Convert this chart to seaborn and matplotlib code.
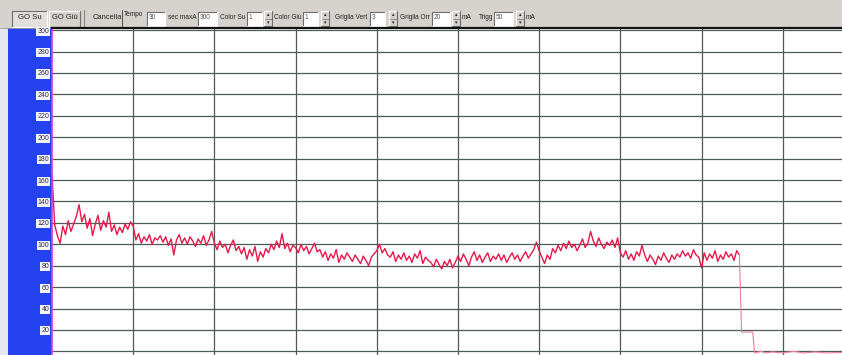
import numpy as np
import pandas as pd
import matplotlib
matplotlib.use("Agg")
import matplotlib.pyplot as plt
import seaborn as sns
from matplotlib.patches import Rectangle

sns.set_style("white")
plt.rcParams['font.family'] = ['Liberation Sans Narrow', 'Liberation Sans', 'DejaVu Sans']

# corrente letta ogni secondo (mA)
ma_main = [
    165, 118, 108, 101, 117, 109, 122, 112, 119, 126,
    137, 121, 128, 115, 124, 108, 119, 127, 113, 122,
    116, 130, 112, 118, 109, 116, 111, 119, 114, 121,
    117, 104, 110, 101, 107, 103, 109, 100, 106, 104,
    108, 102, 107, 99, 105, 90, 104, 109, 101, 106,
    100, 107, 103, 98, 105, 101, 108, 99, 104, 112,
    101, 95, 103, 97, 100, 92, 99, 104, 94, 98,
    91, 97, 86, 95, 89, 98, 84, 93, 88, 96,
    92, 100, 95, 103, 97, 110, 96, 101, 93, 99,
    97, 92, 100, 94, 98, 91, 96, 101, 93, 95,
    88, 93, 85, 91, 87, 95, 83, 90, 86, 92,
    88, 84, 90, 86, 82, 89, 85, 80, 88, 91,
    94, 100, 92, 96, 90, 88, 93, 84, 90, 86,
    92, 85, 89, 83, 91, 87, 94, 82, 88, 85,
    83, 79, 86, 81, 77, 84, 80, 86, 78, 83,
    89, 84, 91, 86, 80, 88, 93, 85, 90, 83,
    88, 92, 84, 89, 86, 91, 85, 90, 83, 88,
    92, 86, 90, 84, 89, 93, 87, 91, 95, 102,
    94, 88, 82, 90, 86, 96, 92, 99, 94, 101,
    96, 103, 97, 100, 94, 99, 105, 97, 101, 112,
    103, 98, 106, 100, 96, 102, 99, 104, 97, 106,
    92, 88, 94, 86, 91, 85, 93, 89, 99, 90,
    84, 90, 86, 81, 89, 85, 92, 87, 83, 90,
    86, 91, 88, 94, 89, 92, 87, 95, 90, 88,
    78, 92, 85, 91, 87, 94, 84, 90, 86, 93,
    88, 91, 85, 94, 90,
]
# caduta finale
tail_sec = [254, 254.8, 258.9, 259.6, 262, 264, 266, 270, 274, 278, 282, 286, 292]
tail_ma = [90, 18, 18, -1.5, 0, -1.5, -0.5, -1.5, 0, -1.5, -0.5, -1.5, -1]

y_ticks = list(range(20, 301, 20))
x_grid = list(range(30, 291, 30))

main = pd.DataFrame({"sec": np.arange(len(ma_main), dtype=float), "mA": ma_main})
tail = pd.DataFrame({"sec": tail_sec, "mA": tail_ma})

W, H = 842, 355
fig = plt.figure(figsize=(W / 100, H / 100), dpi=100)
fig.patch.set_facecolor("white")

# pixel overlay for toolbar and blue panel
bg = fig.add_axes([0, 0, 1, 1])
bg.set_xlim(0, W)
bg.set_ylim(H, 0)
bg.axis("off")

bg.add_patch(Rectangle((0, 0), W, 28, fc="#d6d3ce", ec="none"))
bg.add_patch(Rectangle((0, 28), 8, H - 28, fc="#e6e6ee", ec="none"))
bg.add_patch(Rectangle((8, 28), 44, H - 28, fc="#2442f0", ec="none"))
bg.plot([0, W], [27.5, 27.5], color="#9a9a9a", lw=0.6)


def frame(x0, y0, w, h, fc, sunken=False):
    bg.add_patch(Rectangle((x0, y0), w, h, fc=fc, ec="none"))
    tl, br = ("#6e6e6e", "#ffffff") if sunken else ("#ffffff", "#6e6e6e")
    bg.plot([x0, x0, x0 + w], [y0 + h, y0, y0], color=tl, lw=0.8)
    bg.plot([x0, x0 + w, x0 + w], [y0 + h, y0 + h, y0], color=br, lw=0.8)


def label(x, txt, y=17.5, size=4.7, color="#202020", ha="left"):
    bg.text(x, y, txt, fontsize=size, color=color, ha=ha, va="center")


def spinner(x0):
    frame(x0, 11, 8, 15, "#d6d3ce")
    bg.plot([x0 + 0.5, x0 + 7.5], [18.5, 18.5], color="#6e6e6e", lw=0.5)
    bg.text(x0 + 4, 14.5, "\u25b4", fontsize=3.5, ha="center", va="center", color="#202020")
    bg.text(x0 + 4, 22.5, "\u25be", fontsize=3.5, ha="center", va="center", color="#202020")


frame(12, 11, 35, 16, "#e2e0dc", sunken=True)
label(29.5, "GO Su", ha="center", size=5.6)
frame(49, 11, 31, 16, "#d6d3ce")
label(64.5, "GO Giù", ha="center", size=5.4)
bg.plot([84, 84], [10, 27], color="#8a8a8a", lw=0.8)

label(93, "Cancella", size=5.4)
bg.plot([122, 122], [10, 27], color="#505050", lw=0.7)
label(123.5, "Tempo", y=14)
frame(147, 12, 18, 14, "white", sunken=True)
label(149, "30", color="#555555")
label(168, "sec maxA")
frame(198, 12, 19, 14, "white", sunken=True)
label(199.5, "300", color="#555555")
label(220, "Color Su")
frame(247, 12, 15, 14, "white", sunken=True)
label(249, "1", color="#555555")
spinner(264)
label(274, "Color Giù")
frame(303, 12, 15, 14, "white", sunken=True)
label(305, "1", color="#555555")
spinner(321)
label(335, "Griglia Vert")
frame(370, 12, 15, 14, "white", sunken=True)
label(372, "3", color="#555555")
spinner(389)
label(400, "Griglia Orr")
frame(432, 12, 18, 14, "white", sunken=True)
label(434, "20", color="#555555")
spinner(452)
label(462, "mA")
label(479, "Trigg")
frame(494, 12, 19, 14, "white", sunken=True)
label(496, "50", color="#555555")
spinner(516)
label(526, "mA")

# grafico
ax = fig.add_axes([52 / W, 0, 790 / W, 327 / H])
ax.set_facecolor("white")
sns.lineplot(data=main, x="sec", y="mA", ax=ax, color="#e5194a", lw=1.0,
             estimator=None, sort=False)
sns.lineplot(data=tail, x="sec", y="mA", ax=ax, color="#f07ca0", lw=0.8,
             estimator=None, sort=False)
ax.set_xlim(0, 291.9)
ax.set_ylim(-3.4, 302)
ax.set_xticks(x_grid)
ax.set_xticklabels([])
ax.set_yticks(y_ticks)
ax.set_yticklabels([str(v) for v in y_ticks])
ax.set_xlabel("")
ax.set_ylabel("")
ax.grid(True, color="#4f5b57", lw=0.9)
ax.axhline(0, color="#4f5b57", lw=0.9, zorder=0.5)
ax.set_axisbelow(True)
ax.tick_params(axis="both", length=0)
ax.tick_params(axis="y", pad=2, labelsize=5, labelcolor="#303048")
for t in ax.get_yticklabels():
    t.set_bbox(dict(boxstyle="square,pad=0.15", fc="#f4f4f8", ec="none"))
for s in ["right", "bottom"]:
    ax.spines[s].set_visible(False)
ax.spines["top"].set_color("#101010")
ax.spines["top"].set_linewidth(1.6)
ax.spines["left"].set_color("#d040d0")
ax.spines["left"].set_linewidth(1.2)

fig.savefig("out.png", dpi=100)
